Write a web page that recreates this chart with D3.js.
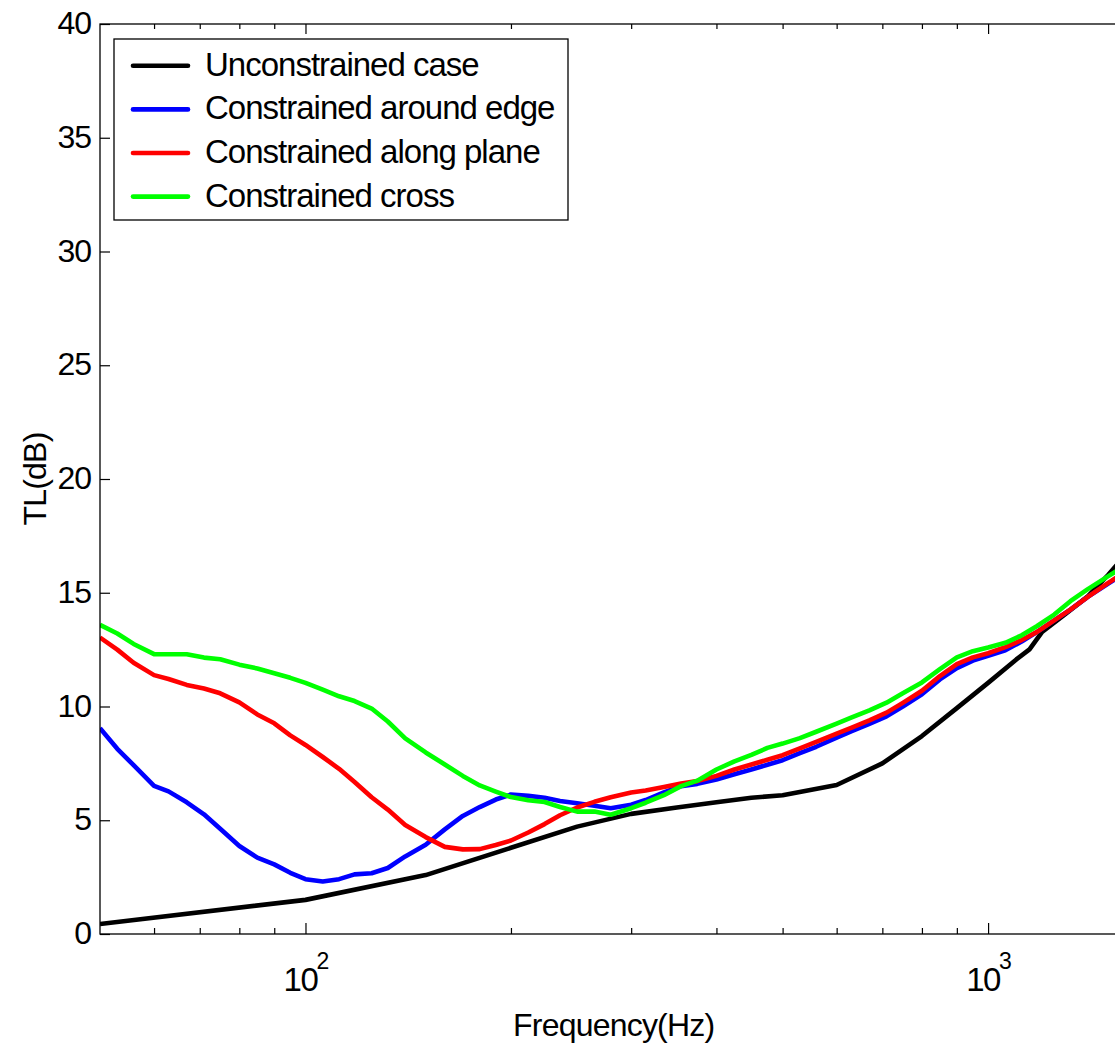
<!DOCTYPE html>
<html>
<head>
<meta charset="utf-8">
<script src="https://cdn.jsdelivr.net/npm/d3@7"></script>
<style>
  html, body { margin: 0; padding: 0; background: #fff; }
  svg { display: block; }
  text { font-family: "Liberation Sans", Arial, sans-serif; fill: #000; }
</style>
</head>
<body>
<script>
// Transmission loss of the panel for four constraint conditions
const freqUnconstrained = [50, 100, 150, 200, 250, 300, 350, 400, 450, 500, 600, 700, 800, 900, 1000, 1100, 1150, 1200, 1300, 1400, 1500, 1600];
const tlUnconstrained = [0.44, 1.50, 2.59, 3.79, 4.72, 5.28, 5.56, 5.79, 5.99, 6.10, 6.55, 7.50, 8.70, 9.93, 11.04, 12.07, 12.51, 13.28, 14.08, 14.84, 15.79, 16.75];

const freqConstrained = [50, 53, 56, 60, 63, 67, 71, 75, 80, 85, 90, 95, 100, 106, 112, 118, 125, 132, 140, 150, 160, 170, 180, 190, 200, 212, 224, 236, 250, 265, 280, 300, 315, 335, 355, 375, 400, 425, 450, 475, 500, 530, 560, 600, 630, 670, 710, 750, 800, 850, 900, 950, 1000, 1060, 1120, 1180, 1250, 1320, 1400, 1500, 1600];
const tlEdge = [9.05, 8.14, 7.42, 6.51, 6.27, 5.79, 5.26, 4.63, 3.87, 3.36, 3.06, 2.69, 2.41, 2.31, 2.41, 2.62, 2.67, 2.90, 3.41, 3.92, 4.60, 5.19, 5.58, 5.91, 6.13, 6.07, 5.99, 5.85, 5.75, 5.64, 5.53, 5.68, 5.89, 6.22, 6.50, 6.60, 6.79, 7.02, 7.23, 7.44, 7.64, 7.95, 8.23, 8.63, 8.91, 9.24, 9.57, 10.00, 10.54, 11.19, 11.69, 12.02, 12.23, 12.47, 12.86, 13.28, 13.79, 14.26, 14.82, 15.40, 15.95];
const tlPlane = [13.03, 12.50, 11.92, 11.38, 11.21, 10.95, 10.79, 10.58, 10.18, 9.65, 9.26, 8.73, 8.31, 7.78, 7.26, 6.68, 6.01, 5.47, 4.79, 4.26, 3.83, 3.72, 3.73, 3.91, 4.11, 4.46, 4.83, 5.22, 5.56, 5.81, 6.01, 6.22, 6.31, 6.46, 6.61, 6.72, 6.95, 7.23, 7.45, 7.66, 7.86, 8.16, 8.45, 8.81, 9.06, 9.39, 9.73, 10.16, 10.69, 11.34, 11.86, 12.16, 12.34, 12.61, 12.92, 13.28, 13.79, 14.26, 14.82, 15.43, 16.00];
const tlCross = [13.59, 13.21, 12.75, 12.30, 12.30, 12.30, 12.15, 12.08, 11.84, 11.67, 11.46, 11.26, 11.04, 10.74, 10.45, 10.24, 9.91, 9.34, 8.60, 7.98, 7.45, 6.95, 6.53, 6.26, 6.02, 5.88, 5.80, 5.58, 5.38, 5.38, 5.24, 5.53, 5.77, 6.10, 6.50, 6.74, 7.23, 7.59, 7.87, 8.18, 8.37, 8.61, 8.89, 9.25, 9.51, 9.83, 10.17, 10.58, 11.06, 11.64, 12.16, 12.43, 12.59, 12.80, 13.13, 13.54, 14.04, 14.63, 15.16, 15.73, 16.25];

const seriesNames = ["Unconstrained case", "Constrained around edge", "Constrained along plane", "Constrained cross"];
const seriesColors = ["#000000", "#0000ff", "#ff0000", "#00ff00"];

const yTicks = [0, 5, 10, 15, 20, 25, 30, 35, 40];
const xMajorTicks = [100, 1000];
const xMajorExponents = ["2", "3"];
const xMinorTicks = [60, 70, 80, 90, 200, 300, 400, 500, 600, 700, 800, 900];
const xLabel = "Frequency(Hz)";
const yLabel = "TL(dB)";

const W = 1115, H = 1045;
const plotLeft = 100, plotTop = 24, plotBottom = 934;
const decade = 682.6;
const xDomain = [50, 1600];
const plotRight = plotLeft + decade * Math.log10(xDomain[1] / xDomain[0]);

const svg = d3.select("body").append("svg").attr("width", W).attr("height", H);

const x = d3.scaleLog().domain(xDomain).range([plotLeft, plotRight]);
const y = d3.scaleLinear().domain([0, 40]).range([plotBottom, plotTop]);

// data lines
const series = [
  { f: freqUnconstrained, v: tlUnconstrained },
  { f: freqConstrained, v: tlEdge },
  { f: freqConstrained, v: tlPlane },
  { f: freqConstrained, v: tlCross }
];
const line = d3.line().x(d => x(d[0])).y(d => y(d[1]));
svg.append("defs").append("clipPath").attr("id", "plotclip")
  .append("rect").attr("x", plotLeft).attr("y", plotTop)
  .attr("width", plotRight - plotLeft).attr("height", plotBottom - plotTop);
const plot = svg.append("g").attr("clip-path", "url(#plotclip)");
series.forEach((s, i) => {
  plot.append("path")
    .datum(s.f.map((f, k) => [f, s.v[k]]))
    .attr("d", line)
    .attr("fill", "none")
    .attr("stroke", seriesColors[i])
    .attr("stroke-width", 4.6)
    .attr("stroke-linejoin", "round");
});

// axes with inward ticks (box style)
const axisStyle = g => {
  g.select(".domain").remove();
  g.selectAll(".tick line").attr("stroke", "#000").attr("stroke-width", 1.2);
};
svg.append("g").attr("transform", `translate(0,${plotBottom})`)
  .call(d3.axisBottom(x).tickValues(xMajorTicks).tickSize(-11).tickFormat(""))
  .call(axisStyle);
svg.append("g").attr("transform", `translate(0,${plotBottom})`)
  .call(d3.axisBottom(x).tickValues(xMinorTicks).tickSize(-6).tickFormat(""))
  .call(axisStyle);
svg.append("g").attr("transform", `translate(0,${plotTop})`)
  .call(d3.axisTop(x).tickValues(xMajorTicks).tickSize(-10).tickFormat(""))
  .call(axisStyle);
svg.append("g").attr("transform", `translate(0,${plotTop})`)
  .call(d3.axisTop(x).tickValues(xMinorTicks).tickSize(-5).tickFormat(""))
  .call(axisStyle);
const yAxis = svg.append("g").attr("transform", `translate(${plotLeft},0)`)
  .call(d3.axisLeft(y).tickValues(yTicks).tickSize(-10).tickPadding(9).tickFormat(d3.format("d")))
  .call(axisStyle);
yAxis.selectAll(".tick text")
  .attr("font-size", 32).attr("letter-spacing", "-1px")
  .attr("font-family", "'Liberation Sans', Arial, sans-serif")
  .attr("fill", "#000").attr("dy", "0.3em");
svg.append("g").attr("transform", `translate(${plotRight},0)`)
  .call(d3.axisRight(y).tickValues(yTicks).tickSize(-10).tickFormat(""))
  .call(axisStyle);

// frame
svg.append("rect")
  .attr("x", plotLeft).attr("y", plotTop)
  .attr("width", plotRight - plotLeft).attr("height", plotBottom - plotTop)
  .attr("fill", "none").attr("stroke", "#000").attr("stroke-width", 1.3);

// x tick labels as powers of ten
xMajorTicks.forEach((t, i) => {
  svg.append("text")
    .attr("x", x(t) - 5).attr("y", 991)
    .attr("text-anchor", "middle")
    .attr("font-size", 33).attr("letter-spacing", "-1.5px")
    .text("10");
  svg.append("text")
    .attr("x", x(t) + 11).attr("y", 969)
    .attr("font-size", 23)
    .text(xMajorExponents[i]);
});

// axis titles
svg.append("text")
  .attr("x", (plotLeft + plotRight) / 2).attr("y", 1036)
  .attr("text-anchor", "middle")
  .attr("font-size", 32).attr("letter-spacing", "-0.8px")
  .text(xLabel);
svg.append("text")
  .attr("transform", `translate(46,${(plotTop + plotBottom) / 2}) rotate(-90)`)
  .attr("text-anchor", "middle")
  .attr("font-size", 32).attr("letter-spacing", "-0.8px")
  .text(yLabel);

// legend
const legend = svg.append("g");
legend.append("rect")
  .attr("x", 114).attr("y", 39).attr("width", 454).attr("height", 181)
  .attr("fill", "#fff").attr("stroke", "#000").attr("stroke-width", 1.3);
seriesNames.forEach((name, i) => {
  const ly = 65.8 + i * 43.6;
  legend.append("line")
    .attr("x1", 133).attr("x2", 188).attr("y1", ly).attr("y2", ly)
    .attr("stroke", seriesColors[i]).attr("stroke-width", 4.6).attr("stroke-linecap", "round");
  legend.append("text")
    .attr("x", 205).attr("y", ly + 10)
    .attr("font-size", 33).attr("letter-spacing", "-1px")
    .text(name);
});
</script>
</body>
</html>
